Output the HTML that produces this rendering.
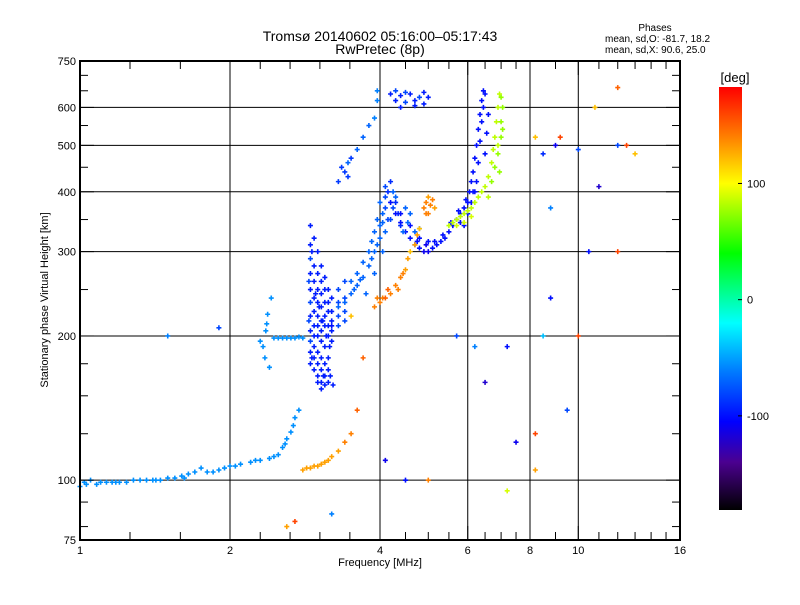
<!DOCTYPE html>
<html><head><meta charset="utf-8"><style>
body{margin:0;background:#fff;}
svg text{font-family:"Liberation Sans",sans-serif;fill:#000;}
</style></head><body>
<svg id="chart" width="800" height="600" viewBox="0 0 800 600" xmlns="http://www.w3.org/2000/svg">
<defs>
<linearGradient id="cb" x1="0" y1="1" x2="0" y2="0">
<stop offset="0" stop-color="#000000"/>
<stop offset="0.113" stop-color="#4b0090"/>
<stop offset="0.209" stop-color="#0000ff"/>
<stop offset="0.332" stop-color="#0080ff"/>
<stop offset="0.442" stop-color="#00ffff"/>
<stop offset="0.607" stop-color="#00ff00"/>
<stop offset="0.772" stop-color="#ffff00"/>
<stop offset="0.882" stop-color="#ff8000"/>
<stop offset="1" stop-color="#ff0000"/>
</linearGradient>
</defs>
<text x="380" y="41" font-size="14" text-anchor="middle">Tromsø 20140602 05:16:00–05:17:43</text>
<text x="380" y="54" font-size="14" text-anchor="middle">RwPretec (8p)</text>
<text x="655" y="31" font-size="10" text-anchor="middle">Phases</text>
<text x="605" y="42" font-size="10">mean, sd,O: -81.7, 18.2</text>
<text x="605" y="53" font-size="10">mean, sd,X:  90.6, 25.0</text>
<g id="grid"></g>
<g id="marks"></g>
<g id="axes"></g>
<rect x="719" y="87" width="23" height="423" fill="url(#cb)"/>
<text x="735" y="82" font-size="13" text-anchor="middle">[deg]</text>
<g id="cbticks"></g>
<text x="380" y="566" font-size="11" text-anchor="middle">Frequency [MHz]</text>
<text x="48" y="300" font-size="11" text-anchor="middle" transform="rotate(-90 48 300)">Stationary phase Virtual Height [km]</text>
</svg>
<script>
const xTicks = [1, 2, 4, 6, 8, 10, 16];
const yTicks = [75, 100, 200, 300, 400, 500, 600, 750];
const xGrid = [2, 4, 6, 8, 10];
const yGrid = [100, 200, 300, 400, 500, 600];
const cbTicks = [100, 0, -100];
const PHASE_MIN = -181, PHASE_MAX = 183;
const points = [
[1.0,97,-55],[1.02,99,-55],[1.05,100,-55],[1.08,98,-55],[1.1,99,-55],[1.13,99,-55],[1.16,99,-55],[1.2,99,-55],[1.24,99,-55],[1.28,100,-55],[1.32,100,-55],[1.36,100,-55],[1.4,100,-55],[1.45,100,-55],[1.5,101,-55],[1.55,101,-55],[1.6,102,-55],[1.65,103,-55],[1.7,104,-55],[1.75,106,-55],[1.8,104,-55],[1.85,104,-55],[1.9,105,-55],[1.95,106,-55],[2.0,107,-55],[2.1,108,-55],[2.2,109,-55],[2.3,110,-55],[2.4,111,-55],[2.5,113,-55],[2.55,117,-55],[2.6,122,-55],[2.65,126,-55],[2.7,135,-55],[2.75,140,-55],
[1.03,98,-55],[1.18,99,-55],[1.42,100,-55],[1.62,101,-55],[2.05,107,-55],[2.25,110,-55],[2.45,112,-55],[2.58,119,-55],[2.68,130,-55],
[2.3,195,-55],[2.35,180,-55],[2.4,172,-55],[2.36,205,-55],[2.38,222,-55],[2.42,240,-55],[2.45,198,-55],[2.5,198,-55],[2.55,198,-55],[2.6,198,-55],[2.65,198,-55],[2.7,198,-55],[2.75,199,-55],[2.8,198,-55],[2.33,190,-55],[2.37,212,-55],
[2.8,105,130],[2.85,106,130],[2.9,106,130],[2.95,107,130],[3.0,107,130],[3.05,108,130],[3.1,109,130],[3.15,110,130],[3.2,112,130],[3.3,115,130],[3.4,120,140],[3.5,125,140],
[2.9,340,-95],[2.9,310,-95],[2.9,290,-80],[2.9,270,-95],[2.9,250,-95],[2.9,235,-80],[2.9,220,-95],[2.9,205,-95],[2.9,195,-80],[2.9,185,-95],[2.9,175,-95],
[2.95,320,-95],[2.95,280,-95],[2.95,260,-95],[2.95,240,-95],[2.95,225,-95],[2.95,210,-95],[2.95,200,-95],[2.95,190,-95],[2.95,180,-95],[2.95,170,-95],
[3.0,300,-95],[3.0,270,-95],[3.0,250,-95],[3.0,235,-95],[3.0,220,-95],[3.0,210,-95],[3.0,200,-95],[3.0,185,-95],[3.0,175,-95],[3.0,165,-95],[3.0,160,-95],
[3.05,280,-95],[3.05,260,-95],[3.05,245,-95],[3.05,230,-95],[3.05,215,-95],[3.05,205,-95],[3.05,195,-95],[3.05,180,-95],[3.05,170,-95],[3.05,160,-95],[3.05,155,-95],
[3.1,265,-95],[3.1,250,-95],[3.1,235,-95],[3.1,220,-95],[3.1,210,-95],[3.1,190,-95],[3.1,175,-95],[3.1,165,-95],[3.1,158,-95],
[3.15,250,-95],[3.15,235,-95],[3.15,225,-95],[3.15,210,-95],[3.15,200,-95],[3.15,180,-95],[3.15,170,-95],[3.15,160,-95],
[3.2,240,-95],[3.2,225,-95],[3.2,215,-95],[3.2,205,-95],[3.2,195,-95],
[2.92,300,-95],[2.97,245,-95],[3.02,230,-95],[3.07,215,-95],[3.12,200,-95],[3.17,190,-95],[2.88,260,-80],[2.88,215,-80],[2.92,180,-95],[3.08,165,-95],[3.18,165,-95],[3.22,158,-95],
[3.3,250,-80],[3.3,235,-80],[3.3,220,-80],[3.3,210,-80],[3.4,260,-80],[3.4,240,-80],[3.4,225,-80],[3.4,215,-80],
[3.3,230,-70],[3.4,235,-70],[3.5,245,-70],[3.6,255,-70],[3.7,265,-70],[3.8,280,-70],[3.9,300,-70],[4.0,320,-70],[4.05,345,-70],[4.1,370,-80],[4.15,400,-90],[4.2,420,-90],[4.1,410,-80],[4.0,380,-70],[3.9,330,-70],[3.8,300,-70],[3.7,285,-70],[3.6,270,-70],[3.5,260,-70],[3.95,350,-70],[4.05,300,-70],[4.1,330,-70],[3.9,270,-70],[3.75,245,-70],[4.2,350,-80],[4.3,380,-90],[4.35,360,-90],[4.4,340,-90],
[3.55,250,-70],[3.65,262,-70],[3.85,290,-70],[3.95,310,-70],[4.0,340,-70],[4.05,360,-70],[4.1,390,-80],[4.15,350,-80],[4.25,370,-80],[3.85,315,-70],
[3.35,450,-85],[3.4,440,-85],[3.45,460,-70],[3.5,470,-85],[3.6,490,-70],[3.7,520,-70],[3.8,550,-70],[3.9,570,-60],[3.95,620,-60],[3.95,650,-60],[3.3,420,-85],[3.45,430,-85],
[4.2,640,-95],[4.3,650,-80],[4.4,635,-95],[4.5,645,-80],[4.6,640,-95],[4.7,620,-95],[4.8,630,-80],[4.9,645,-95],[5.0,630,-95],[4.3,620,-95],[4.5,615,-80],[4.7,605,-95],[4.9,610,-95],[4.4,600,-95],
[4.2,380,-100],[4.3,360,-100],[4.4,345,-100],[4.5,330,-100],[4.6,320,-100],[4.7,310,-100],[4.8,305,-100],[4.9,300,-110],[5.0,300,-110],[5.1,305,-100],[5.2,310,-100],[5.3,315,-100],[5.4,320,-100],[5.5,330,-100],[5.6,340,-100],[5.7,350,-100],[5.8,360,-100],[5.9,370,-100],[6.0,380,-100],[6.05,400,-100],[6.1,420,-100],[6.15,440,-100],[6.2,470,-100],[6.25,500,-100],[6.3,540,-100],[6.35,580,-100],[6.4,620,-100],[6.45,650,-100],[6.25,420,-100],[6.3,460,-100],[6.35,510,-100],[6.4,560,-100],[6.45,600,-100],[6.5,640,-100],[6.2,400,-100],[6.1,380,-100],[5.9,340,-100],[5.8,345,-100],[4.6,340,-100],[4.8,320,-100],[5.0,315,-100],[4.4,360,-100],[6.6,580,-100],[6.55,530,-100],[6.5,480,-100],
[4.75,315,-100],[4.95,310,-110],[5.15,315,-100],[5.35,325,-100],[5.55,345,-100],[5.75,365,-100],[5.95,385,-100],[6.0,360,-100],[6.15,400,-100],
[4.25,400,-70],[4.3,390,-70],[4.5,370,-70],[4.6,360,-70],[4.45,330,-70],[4.55,345,-70],[4.7,330,-70],[4.8,335,-70],
[4.0,235,140],[4.05,240,140],[4.1,240,150],[4.2,245,140],[4.3,255,140],[4.4,265,140],[4.5,275,130],[4.55,290,130],[4.6,300,120],[4.7,310,130],[4.75,325,130],[4.8,335,120],[4.15,250,150],[4.35,250,140],[4.45,270,140],[3.9,230,140],[3.95,240,140],
[4.9,370,140],[4.95,380,140],[5.0,390,130],[5.05,375,140],[5.1,385,140],[5.15,370,130],[5.0,360,140],[4.95,360,140],
[5.5,340,85],[5.6,345,85],[5.7,350,85],[5.8,355,85],[5.9,360,85],[6.0,365,85],[6.1,370,85],[6.2,380,85],[6.3,390,85],[6.4,400,85],[6.5,410,85],[6.6,430,85],[6.7,460,85],[6.75,490,85],[6.8,520,85],[6.85,560,85],[6.9,600,85],[6.95,640,85],[6.7,420,75],[6.8,450,75],[6.9,480,75],[7.0,520,75],[7.0,560,75],[7.05,600,75],[7.0,630,75],[5.7,340,90],[5.9,345,90],[6.1,355,90],[6.6,390,85],[6.9,500,85],[6.95,440,75],[7.05,540,75],
[8.2,520,120],[8.5,480,-90],[9.0,500,-110],[9.2,520,160],[10,490,-80],[11,410,-120],[12,660,150],[12.5,500,160],[12,500,-80],[13,480,120],[8.8,370,-60],[10.5,300,-100],[12,300,160],[8.8,240,-100],[10,200,160],[8.5,200,-40],[9.5,140,-80],[8.2,125,160],[6.2,190,-60],[7.2,190,-100],[6.5,160,-120],[7.5,120,-110],[3.2,85,-60],[2.6,80,130],[5.7,200,-80],[4.1,110,-110],[3.6,140,150],[3.2,210,-100],[3.5,220,120],[3.7,180,150],[2.7,82,160],[1.5,200,-60],[1.9,208,-80],[7.2,95,90],[8.2,105,130],[5,100,140],[4.5,100,-100],[10.8,600,120]
];
const X0=80,X1=680,Y0=540,Y1=61;
function xs(f){return X0+(X1-X0)*Math.log(f)/Math.log(16);}
function ys(h){return Y0-(Y0-Y1)*(Math.log(h/75)/Math.log(10));}
const stops=[[-181,[0,0,0]],[-140,[75,0,144]],[-105,[0,0,255]],[-60,[0,128,255]],[-20,[0,255,255]],[40,[0,255,0]],[100,[255,255,0]],[140,[255,128,0]],[183,[255,0,0]]];
function color(p){p=Math.max(-181,Math.min(183,p));for(let i=1;i<stops.length;i++){if(p<=stops[i][0]){const a=stops[i-1],b=stops[i];const t=(p-a[0])/(b[0]-a[0]);const c=a[1].map((v,k)=>Math.round(v+(b[1][k]-v)*t));return `rgb(${c[0]},${c[1]},${c[2]})`;}}return 'red';}
const NS='http://www.w3.org/2000/svg';
function mk(tag,attrs,parent){const e=document.createElementNS(NS,tag);for(const k in attrs)e.setAttribute(k,attrs[k]);parent.appendChild(e);return e;}
const grid=document.getElementById('grid'),marks=document.getElementById('marks'),axes=document.getElementById('axes'),cbt=document.getElementById('cbticks');
xGrid.forEach(f=>{const l=mk('line',{x1:xs(f),x2:xs(f),y1:Y1,y2:Y0,stroke:'#000','stroke-width':1},grid);

});
yGrid.forEach(h=>{const l=mk('line',{x1:X0,x2:X1,y1:ys(h),y2:ys(h),stroke:'#000','stroke-width':1},grid);

});
points.forEach(p=>{const x=xs(p[0]),y=ys(p[1]),c=color(p[2]);
const g=mk('path',{d:`M${x-2.5} ${y}H${x+2.5}M${x} ${y-2.5}V${y+2.5}`,stroke:c,'stroke-width':1.6},marks);

});
const fr=mk('rect',{x:X0,y:Y1,width:X1-X0,height:Y0-Y1,fill:'none',stroke:'#000','stroke-width':2},axes);


const minorX=[1.26,1.59,2.3,2.64,3.03,3.48,4.5,5,5.5,6.5,7,7.5,9,11,12,13,14,15];
minorX.forEach(f=>{const x=xs(f);mk('line',{x1:x,x2:x,y1:Y1,y2:Y1+8,stroke:'#000'},axes);mk('line',{x1:x,x2:x,y1:Y0,y2:Y0-8,stroke:'#000'},axes);});
const minorY=[80,90,125,150,175,250,350,450,550,650,700];
minorY.forEach(h=>{const y=ys(h);mk('line',{x1:X0,x2:X0+8,y1:y,y2:y,stroke:'#000'},axes);mk('line',{x1:X1,x2:X1-8,y1:y,y2:y,stroke:'#000'},axes);});
xTicks.forEach(f=>{const t=mk('text',{x:xs(f),y:554,'font-size':11,'text-anchor':'middle'},axes);t.textContent=f;


const x=xs(f);mk('line',{x1:x,x2:x,y1:Y1,y2:Y1+14,stroke:'#000'},axes);mk('line',{x1:x,x2:x,y1:Y0,y2:Y0-14,stroke:'#000'},axes);});
yTicks.forEach(h=>{const t=mk('text',{x:76,y:ys(h)+4,'font-size':11,'text-anchor':'end'},axes);t.textContent=h;


const y=ys(h);mk('line',{x1:X0,x2:X0+14,y1:y,y2:y,stroke:'#000'},axes);mk('line',{x1:X1,x2:X1-14,y1:y,y2:y,stroke:'#000'},axes);});
cbTicks.forEach(v=>{const y=510-(v-PHASE_MIN)/(PHASE_MAX-PHASE_MIN)*423;
const t=mk('text',{x:747,y:y+4,'font-size':11},cbt);t.textContent=v;


mk('line',{x1:738,x2:742,y1:y,y2:y,stroke:'#000'},cbt);});
</script>
</body></html>
